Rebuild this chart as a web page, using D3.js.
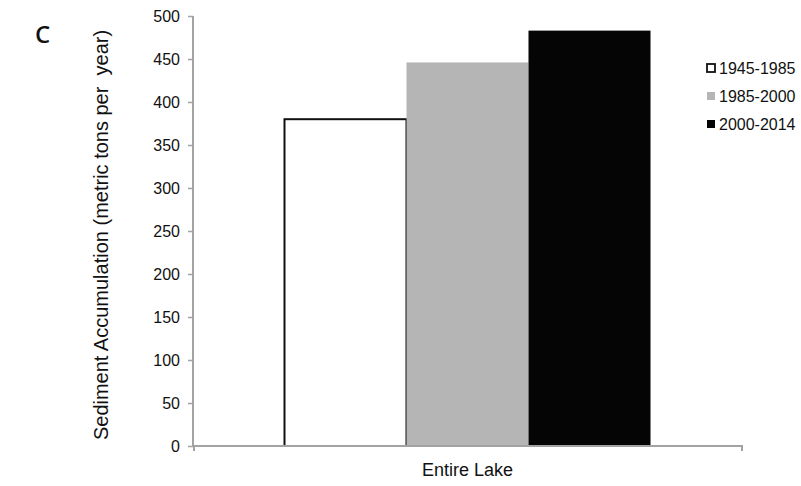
<!DOCTYPE html>
<html>
<head>
<meta charset="utf-8">
<script src="https://cdn.jsdelivr.net/npm/d3@7"></script>
<style>
  body { margin: 0; background: #fff; }
  text { font-family: "Liberation Sans", Arial, sans-serif; fill: #111; }
</style>
</head>
<body>
<svg id="chart"></svg>
<script>
// data
var categories = ["Entire Lake"];
var periods = ["1945-1985", "1985-2000", "2000-2014"];
var values = [380, 446, 483];
var yTicks = [0, 50, 100, 150, 200, 250, 300, 350, 400, 450, 500];

var screen = { width: 801, height: 486 };
var margins = { top: 16, bottom: 40, left: 193, right: 59 };
var periodFill = { "1945-1985": "#ffffff", "1985-2000": "#b4b5b4", "2000-2014": "#050505" };
var axisColor = "#a3a3a3";

var svg = d3.select("#chart")
  .attr("width", screen.width)
  .attr("height", screen.height);

var plotW = screen.width - margins.left - margins.right;
var plotH = screen.height - margins.top - margins.bottom;

var xScale = d3.scaleBand()
  .domain(categories)
  .range([margins.left, margins.left + plotW])
  .paddingInner(0)
  .paddingOuter(0.25);

var innerScale = d3.scaleBand()
  .domain(periods)
  .range([0, xScale.bandwidth()]);

var yScale = d3.scaleLinear()
  .domain([0, 500])
  .range([margins.top + plotH, margins.top]);

// bars
var barData = periods.map(function(p, i){ return { period: p, value: values[i], cat: categories[0] }; });

svg.append("g").selectAll("rect")
  .data(barData)
  .enter()
  .append("rect")
  .attr("x", function(d){ return xScale(d.cat) + innerScale(d.period); })
  .attr("y", function(d){ return yScale(d.value); })
  .attr("width", innerScale.bandwidth())
  .attr("height", function(d){ return yScale(0) - yScale(d.value); })
  .attr("fill", function(d){ return periodFill[d.period]; })
  .attr("stroke", function(d){ return d.period == "1945-1985" ? "#111" : "none"; })
  .attr("stroke-width", 2);

// y axis
var yAxis = d3.axisLeft(yScale).tickValues(yTicks).tickSize(5).tickPadding(8);
var yG = svg.append("g")
  .attr("transform", "translate(" + margins.left + ",0)")
  .call(yAxis);
yG.select(".domain").attr("stroke", axisColor).attr("stroke-width", 2)
  .attr("d", "M0," + yScale(500) + "V" + yScale(0));
yG.selectAll(".tick line").attr("stroke", axisColor).attr("stroke-width", 1.5);
yG.selectAll(".tick text").style("font-size", "16px").attr("fill", "#111");

// x axis
var xAxis = d3.axisBottom(xScale).tickSize(0).tickPadding(17);
var xG = svg.append("g")
  .attr("transform", "translate(0," + yScale(0) + ")")
  .call(xAxis);
xG.select(".domain").attr("stroke", axisColor).attr("stroke-width", 2)
  .attr("d", "M" + (margins.left + 1) + ",5V0H" + (margins.left + plotW) + "V5");
xG.selectAll(".tick text").style("font-size", "18px").attr("fill", "#111");

// y label
svg.append("text")
  .attr("transform", "translate(108," + (margins.top + 219) + ") rotate(-90)")
  .attr("text-anchor", "middle")
  .style("font-size", "20px")
  .style("white-space", "pre")
  .text("Sediment Accumulation (metric tons per  year)");

// panel letter
svg.append("text")
  .attr("x", 35)
  .attr("y", 43)
  .style("font-family", "'Open Sans', sans-serif")
  .style("font-size", "24px")
  .style("font-weight", "600")
  .attr("fill", "#222")
  .text("C");

// legend
var legend = svg.append("g").selectAll("g")
  .data(periods)
  .enter()
  .append("g")
  .attr("transform", function(d, i){ return "translate(707," + (68 + i * 28) + ")"; });

legend.append("rect")
  .attr("x", 0)
  .attr("y", -4)
  .attr("width", 8)
  .attr("height", 8)
  .attr("fill", function(d){ return periodFill[d]; })
  .attr("stroke", function(d){ return d == "1945-1985" ? "#111" : "none"; })
  .attr("stroke-width", 1.8);

legend.append("text")
  .attr("x", 12)
  .attr("y", 6)
  .style("font-size", "16px")
  .text(function(d){ return d; });
</script>
</body>
</html>
